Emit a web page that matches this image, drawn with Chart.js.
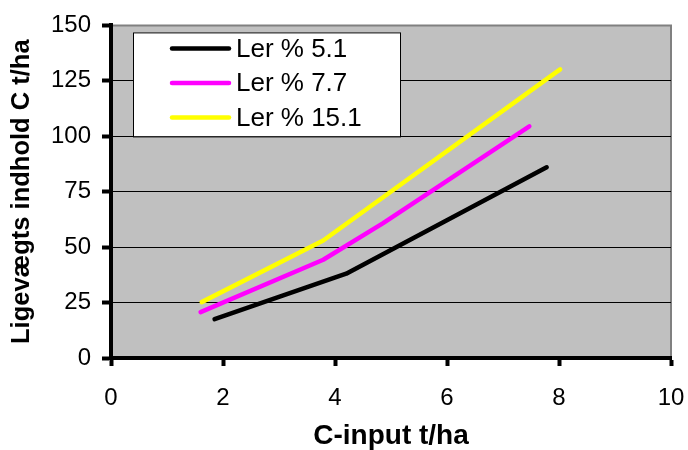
<!DOCTYPE html>
<html>
<head>
<meta charset="utf-8">
<script src="https://cdn.jsdelivr.net/npm/chart.js@4.4.0/dist/chart.umd.min.js"></script>
<style>
    body { margin: 0; background: #fff; }
    canvas { display: block; }
</style>
</head>
<body>
<canvas id="carbonChart" width="688" height="450"></canvas>
<script>
// Equilibrium carbon content vs. carbon input, one line per clay percentage
const seriesLabels = ['Ler % 5.1', 'Ler % 7.7', 'Ler % 15.1'];
const seriesColors = ['#000000', '#FF00FF', '#FFFF00'];

const cInput51 = [1.85, 4.2, 7.78];
const carbon51 = [17.5, 38, 86];

const cInput77 = [1.6, 3.79, 4.86, 7.47];
const carbon77 = [20.7, 44.3, 60.8, 104.5];

const cInput151 = [1.62, 3.79, 8.02];
const carbon151 = [25.2, 53, 130.2];

const xTicks = [0, 2, 4, 6, 8, 10];
const yTicks = [0, 25, 50, 75, 100, 125, 150];

const FONT = "'Liberation Sans', Arial, sans-serif";

function toPoints(xs, ys) {
    return xs.map((x, i) => ({ x: x, y: ys[i] }));
}

const seriesData = [
    toPoints(cInput51, carbon51),
    toPoints(cInput77, carbon77),
    toPoints(cInput151, carbon151)
];

// Gray plot background plus the thin right/top frame
const plotBackground = {
    id: 'plotBackground',
    beforeDraw(chart) {
        const { ctx, chartArea: a } = chart;
        ctx.save();
        ctx.fillStyle = '#C0C0C0';
        ctx.fillRect(a.left, a.top, a.right - a.left, a.bottom - a.top);
        ctx.strokeStyle = '#808080';
        ctx.lineWidth = 2;
        ctx.beginPath();
        ctx.moveTo(a.left, a.top);
        ctx.lineTo(a.right, a.top);
        ctx.lineTo(a.right, a.bottom);
        ctx.stroke();
        ctx.restore();
    }
};

// Boxed legend sitting inside the plot area
const boxLegend = {
    id: 'boxLegend',
    afterDraw(chart) {
        const { ctx, chartArea: a } = chart;
        const left = a.left + 22;
        const top = a.top + 7;
        const width = 267;
        const height = 104;
        ctx.save();
        ctx.fillStyle = '#ffffff';
        ctx.fillRect(left, top, width, height);
        ctx.strokeStyle = '#000000';
        ctx.lineWidth = 1;
        ctx.strokeRect(left + 0.5, top + 0.5, width, height);

        ctx.font = '26px ' + FONT;
        ctx.textBaseline = 'middle';
        ctx.lineCap = 'round';
        chart.data.datasets.forEach((ds, i) => {
            const y = top + 16 + i * 34.5;
            ctx.strokeStyle = ds.borderColor;
            ctx.lineWidth = 4.5;
            ctx.beginPath();
            ctx.moveTo(left + 39, y);
            ctx.lineTo(left + 96, y);
            ctx.stroke();
            ctx.fillStyle = '#000000';
            ctx.fillText(ds.label, left + 103, y + 1);
        });
        ctx.restore();
    }
};

const ctx = document.getElementById('carbonChart').getContext('2d');
const carbonChart = new Chart(ctx, {
    type: 'line',
    data: {
        datasets: seriesLabels.map((label, i) => ({
            label: label,
            data: seriesData[i],
            borderColor: seriesColors[i],
            backgroundColor: seriesColors[i],
            borderWidth: 4.5,
            borderCapStyle: 'round',
            borderJoinStyle: 'round',
            pointRadius: 0,
            tension: 0,
            fill: false
        }))
    },
    options: {
        responsive: false,
        animation: false,
        layout: {
            padding: { top: 25, right: 4, left: 0, bottom: 0 }
        },
        plugins: {
            legend: { display: false },
            tooltip: { enabled: false }
        },
        scales: {
            x: {
                type: 'linear',
                min: 0,
                max: 10,
                afterFit(scale) {
                    scale.height = 92;
                    // only leave room for half of the last label
                    scale.paddingRight = 17;
                },
                afterBuildTicks(scale) { scale.ticks = xTicks.map(v => ({ value: v })); },
                border: { color: '#000000', width: 4 },
                grid: {
                    drawOnChartArea: false,
                    drawTicks: true,
                    tickLength: 8,
                    tickWidth: 4,
                    tickColor: '#000000'
                },
                ticks: {
                    color: '#000000',
                    padding: 18,
                    maxRotation: 0,
                    font: { family: FONT, size: 24 }
                },
                title: {
                    display: true,
                    text: 'C-input t/ha',
                    color: '#000000',
                    padding: { top: 0, bottom: 0 },
                    font: { family: FONT, size: 28, weight: 'bold', lineHeight: 1 }
                }
            },
            y: {
                type: 'linear',
                min: 0,
                max: 150,
                afterFit(scale) { scale.width = 111; },
                afterBuildTicks(scale) { scale.ticks = yTicks.map(v => ({ value: v })); },
                border: { color: '#000000', width: 4 },
                grid: {
                    color: ctx => (ctx.tick && ctx.tick.value === 150) ? '#808080' : '#000000',
                    lineWidth: 1,
                    drawTicks: true,
                    tickLength: 9,
                    tickWidth: 4,
                    tickColor: '#000000'
                },
                ticks: {
                    color: '#000000',
                    padding: 11,
                    font: { family: FONT, size: 24 }
                },
                title: {
                    display: true,
                    text: 'Ligevægts indhold C t/ha',
                    color: '#000000',
                    padding: { top: 9, bottom: 0 },
                    font: { family: FONT, size: 25.5, weight: 'bold', lineHeight: 1 }
                }
            }
        }
    },
    plugins: [plotBackground, boxLegend]
});
</script>
</body>
</html>
